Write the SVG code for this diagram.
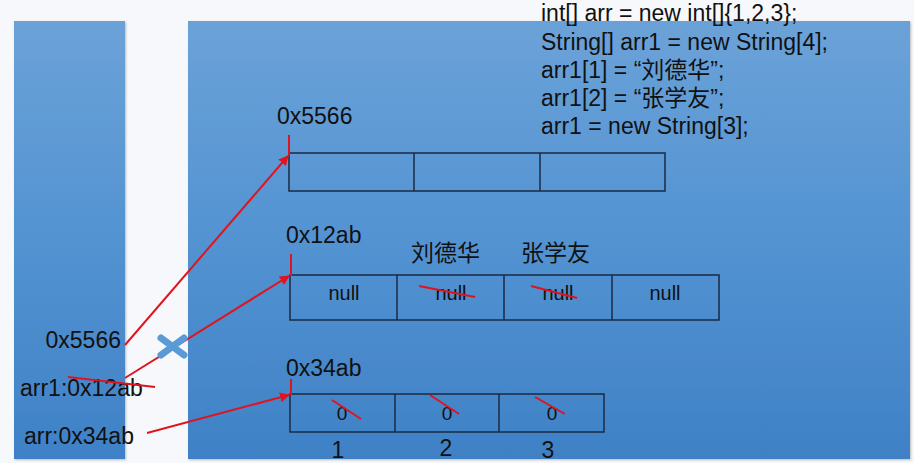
<svg xmlns="http://www.w3.org/2000/svg" width="914" height="463" viewBox="0 0 914 463">
<defs>
<linearGradient id="bg" x1="0" y1="0" x2="0" y2="1">
<stop offset="0" stop-color="#6ba2d8"/>
<stop offset="0.5" stop-color="#5393d2"/>
<stop offset="1" stop-color="#3f81c6"/>
</linearGradient>
<marker id="ah" viewBox="0 0 10 10" refX="9" refY="5" markerWidth="5" markerHeight="5" orient="auto">
<path d="M0,0 L10,5 L0,10 z" fill="#e0141e"/>
</marker>
<filter id="sh" x="-5%" y="-5%" width="110%" height="110%">
<feDropShadow dx="1" dy="1" stdDeviation="1" flood-color="#000" flood-opacity="0.25"/>
</filter>
</defs>
<style>
.t{font-family:"Liberation Sans",Arial,"Noto Sans CJK SC",sans-serif;fill:#111;}
.cell{fill:none;stroke:#1a2a44;stroke-width:1.5;}
.red{stroke:#e0141e;stroke-width:2;fill:none;}
</style>
<rect x="0" y="0" width="914" height="463" fill="#f7f8fb"/>
<g id="stack">
<rect x="14" y="21" width="111" height="438" fill="url(#bg)" filter="url(#sh)"/>
<text class="t" x="121" y="348" font-size="23" text-anchor="end">0x5566</text>
<text class="t" x="20" y="396" font-size="23">arr1:0x12ab</text>
<text class="t" x="24" y="444" font-size="23">arr:0x34ab</text>
</g>
<g id="heap">
<rect x="188" y="21" width="722" height="438" fill="url(#bg)" filter="url(#sh)"/>
</g>
<g id="code">
<text class="t" font-size="23">
<tspan x="541" y="21">int[] arr = new int[]{1,2,3};</tspan>
<tspan x="541" y="50">String[] arr1 = new String[4];</tspan>
<tspan x="541" y="78">arr1[1] = “刘德华”;</tspan>
<tspan x="541" y="106">arr1[2] = “张学友”;</tspan>
<tspan x="541" y="134">arr1 = new String[3];</tspan>
</text>
</g>
<g id="array3">
<text class="t" x="277" y="124" font-size="23">0x5566</text>
<rect class="cell" x="289" y="153" width="376" height="38"/>
<line class="cell" x1="414" y1="153" x2="414" y2="191"/>
<line class="cell" x1="540" y1="153" x2="540" y2="191"/>
</g>
<g id="array4">
<text class="t" x="286" y="243" font-size="23">0x12ab</text>
<text class="t" x="411" y="261" font-size="23">刘德华</text>
<text class="t" x="521" y="261" font-size="23">张学友</text>
<rect class="cell" x="290" y="275" width="429" height="45"/>
<line class="cell" x1="397" y1="275" x2="397" y2="320"/>
<line class="cell" x1="504" y1="275" x2="504" y2="320"/>
<line class="cell" x1="612" y1="275" x2="612" y2="320"/>
<g font-size="20" text-anchor="middle">
<text class="t" x="344" y="300">null</text>
<text class="t" x="451" y="300">null</text>
<text class="t" x="558" y="300">null</text>
<text class="t" x="665" y="300">null</text>
</g>
<line class="red" x1="419" y1="286" x2="475" y2="297"/>
<line class="red" x1="531" y1="286" x2="577" y2="298"/>
</g>
<g id="arrayInt">
<text class="t" x="286" y="376" font-size="23">0x34ab</text>
<rect class="cell" x="290" y="394" width="314" height="38"/>
<line class="cell" x1="395" y1="394" x2="395" y2="432"/>
<line class="cell" x1="499" y1="394" x2="499" y2="432"/>
<g font-size="19" text-anchor="middle">
<text class="t" x="342" y="420">0</text>
<text class="t" x="447" y="420">0</text>
<text class="t" x="552" y="420">0</text>
</g>
<line class="red" x1="332" y1="400" x2="361" y2="419"/>
<line class="red" x1="430" y1="395" x2="459" y2="414"/>
<line class="red" x1="535" y1="397" x2="565" y2="414"/>
<g font-size="23" text-anchor="middle">
<text class="t" x="338" y="458">1</text>
<text class="t" x="446" y="456">2</text>
<text class="t" x="548" y="458">3</text>
</g>
</g>
<g id="connectors">
<line class="red" x1="289" y1="135" x2="289" y2="155"/>
<line class="red" x1="291" y1="254" x2="291" y2="276"/>
<line class="red" x1="291" y1="379" x2="291" y2="395"/>
<line class="red" x1="125" y1="345" x2="288" y2="156" marker-end="url(#ah)"/>
<line class="red" x1="125" y1="378" x2="289" y2="276" marker-end="url(#ah)"/>
<line class="red" x1="147" y1="433" x2="289" y2="395" marker-end="url(#ah)"/>
<line class="red" x1="68" y1="377" x2="155" y2="387"/>
<g stroke="#5b9bd5" stroke-width="7" stroke-linecap="round">
<line x1="161" y1="338" x2="184" y2="355"/>
<line x1="161" y1="355" x2="184" y2="338"/>
</g>
</g>
</svg>
